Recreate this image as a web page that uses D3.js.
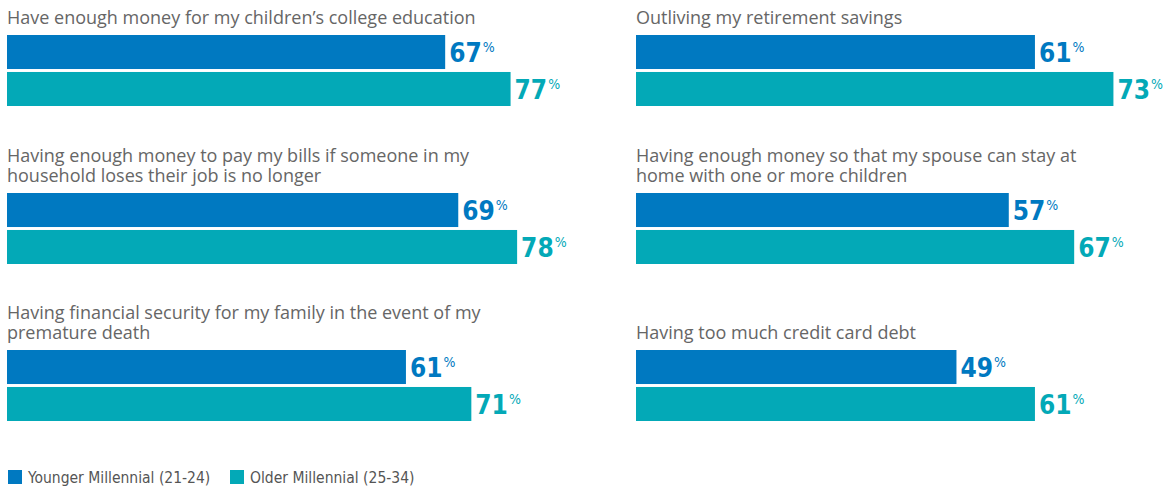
<!DOCTYPE html>
<html>
<head>
<meta charset="utf-8">
<script src="https://cdn.jsdelivr.net/npm/d3@7"></script>
<style>
  body { margin: 0; background: #fff; }
  .title { font-family: "Open Sans", sans-serif; font-size: 18px; fill: #666; }
  .val { font-family: "Liberation Sans Narrow", "DejaVu Sans Condensed", sans-serif; font-weight: bold; font-size: 26px; }
  .pct { font-size: 14px; font-weight: normal; }
  .legend { font-family: "Liberation Sans Narrow", "DejaVu Sans Condensed", sans-serif; font-size: 15.5px; fill: #555; }
</style>
</head>
<body>
<svg id="chart"></svg>
<script>
'use strict';

// data
const titles = [
    ["Have enough money for my children\u2019s college education"],
    ["Outliving my retirement savings"],
    ["Having enough money to pay my bills if someone in my", "household loses their job is no longer"],
    ["Having enough money so that my spouse can stay at", "home with one or more children"],
    ["Having financial security for my family in the event of my", "premature death"],
    ["Having too much credit card debt"]
];
const younger = [67, 61, 69, 57, 61, 49];
const older = [77, 73, 78, 67, 71, 61];
const seriesNames = ["Younger Millennial (21-24)", "Older Millennial (25-34)"];
const colors = ["#0079c1", "#03a9b7"];

var width = 1172, height = 486;
var svg = d3.select("#chart").attr("width", width).attr("height", height);

var colX = [7, 636];
var rowY = [35, 193, 350];

var x = d3.scaleLinear().domain([0, 100]).range([0, 654]);
var y = d3.scaleBand().domain([0, 1]).range([0, 71]).paddingInner(0.08);

titles.forEach(function(lines, i) {
    var g = svg.append("g")
        .attr("transform", "translate(" + colX[i % 2] + "," + rowY[Math.floor(i / 2)] + ")");

    // title as one text block, last line sits 11px above the bars
    g.append("text")
        .attr("class", "title")
        .attr("y", -11 - (lines.length - 1) * 20)
        .selectAll("tspan")
        .data(lines)
        .enter().append("tspan")
        .attr("x", 0)
        .attr("dy", function(d, j) { return j ? 20 : 0; })
        .text(function(d) { return d; });

    var vals = [younger[i], older[i]];

    g.selectAll(".bar")
        .data(vals)
        .enter().append("rect")
        .attr("class", "bar")
        .attr("x", 0)
        .attr("y", function(d, j) { return y(j); })
        .attr("width", function(d) { return x(d); })
        .attr("height", y.bandwidth())
        .attr("fill", function(d, j) { return colors[j]; });

    var lab = g.selectAll(".val")
        .data(vals)
        .enter().append("text")
        .attr("class", "val")
        .attr("x", function(d) { return x(d) + 4; })
        .attr("y", function(d, j) { return y(j) + y.bandwidth() / 2 + 10; })
        .attr("fill", function(d, j) { return colors[j]; });
    lab.append("tspan").text(function(d) { return d; });
    lab.append("tspan").attr("class", "pct").attr("dy", -10).attr("dx", 1).text("%");
});

// legend
var legend = svg.append("g").attr("transform", "translate(8,470)");
var lx = [0, 222];
seriesNames.forEach(function(name, j) {
    legend.append("rect")
        .attr("x", lx[j]).attr("y", 0)
        .attr("width", 14).attr("height", 14)
        .attr("fill", colors[j]);
    legend.append("text")
        .attr("class", "legend")
        .attr("x", lx[j] + 20).attr("y", 13)
        .text(name);
});
</script>
</body>
</html>
